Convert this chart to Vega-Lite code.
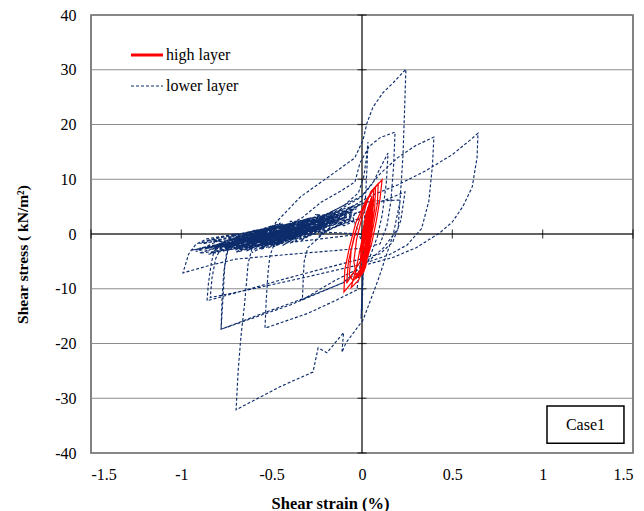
{
  "$schema": "https://vega.github.io/schema/vega-lite/v6.json",
  "width": 542,
  "height": 438,
  "autosize": {"type": "none"},
  "padding": {"left": 91, "top": 15, "right": 11, "bottom": 58},
  "background": "white",
  "config": {
    "view": {"stroke": "#595959", "strokeWidth": 1.5},
    "font": "Liberation Serif",
    "axis": {"labelFont": "Liberation Serif", "labelFontSize": 16, "labelColor": "black", "titleFont": "Liberation Serif", "titleFontSize": 15.5, "titleFontWeight": "bold", "titleColor": "black", "ticks": false, "domain": false},
    "style": {"guide-label": {"font": "Liberation Serif"}, "guide-title": {"font": "Liberation Serif"}}
  },
  "datasets": {
    "lower": [
      {"x":0,"y":0},{"x":-0.3,"y":0.5},{"x":-0.55,"y":-1.2},{"x":-0.2,"y":2.0},{"x":-0.05,"y":3.5},
      {"x":0.1,"y":5.8},{"x":0.238,"y":7.7},{"x":0.215,"y":2.5},{"x":0.17,"y":-1.5},{"x":0.1,"y":-3.6},{"x":0.0,"y":-4.5},{"x":-0.2,"y":-6.2},{"x":-0.45,"y":-8.4},{"x":-0.65,"y":-10.3},{"x":-0.858,"y":-12.2},{"x":-0.85,"y":-9},{"x":-0.835,"y":-5.5},{"x":-0.82,"y":-3.2},{"x":-0.79,"y":-1.8},
      {"x":-0.6,"y":-0.9},{"x":-0.82,"y":-2.6},{"x":-0.5,"y":0.3},{"x":-0.78,"y":-1.5},{"x":-0.42,"y":1.0},{"x":-0.7,"y":-2.7},{"x":-0.35,"y":1.9},{"x":-0.62,"y":-1.3},{"x":-0.3,"y":0.8},{"x":-0.66,"y":-2.2},{"x":-0.25,"y":2.6},{"x":-0.55,"y":-0.6},
      {"x":-0.3,"y":2.2},{"x":-0.12,"y":4.5},{"x":0.0,"y":6.8},{"x":0.06,"y":9.3},{"x":0.1,"y":12.0},{"x":0.144,"y":14.8},{"x":0.135,"y":9.5},{"x":0.112,"y":3.5},{"x":0.085,"y":-0.5},{"x":0.04,"y":-4.5},{"x":0.0,"y":-6.5},{"x":-0.105,"y":-8.9},{"x":-0.3,"y":-11.5},{"x":-0.55,"y":-14.5},{"x":-0.78,"y":-17.4},{"x":-0.775,"y":-12},{"x":-0.765,"y":-7},{"x":-0.75,"y":-3.5},{"x":-0.72,"y":-1.8},
      {"x":-0.52,"y":0.2},{"x":-0.76,"y":-2.2},{"x":-0.45,"y":-0.2},{"x":-0.68,"y":-2.9},{"x":-0.38,"y":0.6},{"x":-0.58,"y":-1.0},{"x":-0.28,"y":2.9},{"x":-0.6,"y":-2.4},{"x":-0.32,"y":-0.1},{"x":-0.48,"y":-1.8},{"x":-0.2,"y":2.4},{"x":-0.5,"y":0.9},
      {"x":-0.25,"y":2.8},{"x":-0.1,"y":5.2},{"x":-0.02,"y":7.5},{"x":0.01,"y":10.5},{"x":0.025,"y":14},{"x":0.033,"y":16.8},{"x":0.028,"y":12.5},{"x":0.02,"y":7},{"x":0.012,"y":2},{"x":0.0,"y":-2},{"x":-0.012,"y":-6},{"x":-0.028,"y":-10.2},{"x":-0.15,"y":-12.2},{"x":-0.3,"y":-14.5},{"x":-0.537,"y":-17.2},{"x":-0.53,"y":-12},{"x":-0.52,"y":-7},{"x":-0.51,"y":-4},{"x":-0.49,"y":-2.2},
      {"x":-0.3,"y":0.2},{"x":-0.7,"y":-1.7},{"x":-0.36,"y":1.3},{"x":-0.8,"y":-2.2},{"x":-0.44,"y":-0.6},{"x":-0.9,"y":-2.6},{"x":-0.6,"y":-0.5},{"x":-0.86,"y":-1.2},{"x":-0.4,"y":1.9},{"x":-0.74,"y":-0.6},{"x":-0.26,"y":1.2},{"x":-0.64,"y":-2.8},
      {"x":-0.45,"y":0.8},{"x":-0.33,"y":3.0},{"x":-0.227,"y":5.8},{"x":-0.12,"y":7.8},{"x":-0.039,"y":9.5},{"x":-0.011,"y":13.0},{"x":0.04,"y":16.0},{"x":0.1,"y":17.6},{"x":0.183,"y":18.6},{"x":0.175,"y":12.5},{"x":0.16,"y":6},{"x":0.138,"y":1.5},{"x":0.1,"y":-1.8},{"x":0.0,"y":-2.6},{"x":-0.25,"y":-3.3},{"x":-0.5,"y":-4.0},{"x":-0.7,"y":-4.6},{"x":-0.85,"y":-5.8},{"x":-0.991,"y":-7.1},{"x":-0.96,"y":-3.7},{"x":-0.92,"y":-1.9},{"x":-0.86,"y":-0.9},{"x":-0.75,"y":-0.3},{"x":-0.6,"y":0.4},
      {"x":-0.4,"y":1.6},{"x":-0.7,"y":-0.7},{"x":-0.3,"y":2.8},{"x":-0.58,"y":0.0},{"x":-0.2,"y":3.6},{"x":-0.5,"y":1.1},{"x":-0.15,"y":3.1},{"x":-0.46,"y":-0.4},{"x":-0.1,"y":4.5},{"x":-0.4,"y":0.4},
      {"x":-0.2,"y":3.5},{"x":0.0,"y":7.0},{"x":0.1,"y":11.0},{"x":0.2,"y":14.0},{"x":0.3,"y":16.2},{"x":0.398,"y":17.7},{"x":0.39,"y":12.5},{"x":0.37,"y":6.0},{"x":0.33,"y":1.0},{"x":0.25,"y":-2.0},{"x":0.15,"y":-3.8},{"x":0.0,"y":-5.5},{"x":-0.3,"y":-7.8},{"x":-0.6,"y":-10},{"x":-0.84,"y":-11.6},{"x":-0.83,"y":-8},{"x":-0.81,"y":-4.5},{"x":-0.78,"y":-2.5},{"x":-0.7,"y":-1.2},
      {"x":-0.35,"y":1.4},{"x":-0.66,"y":-2.0},{"x":-0.3,"y":0.0},{"x":-0.55,"y":-2.3},{"x":-0.18,"y":2.0},{"x":-0.45,"y":-1.3},{"x":-0.1,"y":3.0},{"x":-0.42,"y":0.8},{"x":-0.05,"y":4.0},{"x":-0.3,"y":2.8},
      {"x":-0.1,"y":4.2},{"x":0.05,"y":7.0},{"x":0.2,"y":9.0},{"x":0.35,"y":11.5},{"x":0.5,"y":14.5},{"x":0.6,"y":17.2},{"x":0.642,"y":18.4},{"x":0.637,"y":14.0},{"x":0.61,"y":8.6},{"x":0.558,"y":5.0},{"x":0.5,"y":2.2},{"x":0.43,"y":0.2},{"x":0.3,"y":-2.5},{"x":0.17,"y":-4.3},{"x":0.0,"y":-5.8},{"x":-0.105,"y":-8.9},{"x":-0.4,"y":-13},{"x":-0.78,"y":-17.4},{"x":-0.77,"y":-12},{"x":-0.76,"y":-6},{"x":-0.74,"y":-2.5},{"x":-0.6,"y":-1.0},
      {"x":-0.3,"y":1.5},{"x":-0.68,"y":-1.1},{"x":-0.24,"y":2.2},{"x":-0.56,"y":-2.0},{"x":-0.36,"y":0.0},{"x":-0.7,"y":-2.4},{"x":-0.28,"y":1.7},{"x":-0.5,"y":1.0},{"x":-0.2,"y":2.9},{"x":-0.6,"y":-1.2},{"x":-0.48,"y":0.4},
      {"x":-0.48,"y":2.0},{"x":-0.34,"y":6.8},{"x":-0.17,"y":10.8},{"x":-0.04,"y":13.9},{"x":0.006,"y":17.2},{"x":0.028,"y":20.3},{"x":0.061,"y":23.2},{"x":0.116,"y":25.8},{"x":0.172,"y":27.6},{"x":0.243,"y":30.1},{"x":0.235,"y":22},{"x":0.227,"y":14.4},{"x":0.21,"y":5.8},{"x":0.172,"y":-0.2},{"x":0.089,"y":-8.4},{"x":0.006,"y":-15.7},{"x":-0.089,"y":-19.9},{"x":-0.111,"y":-21.6},{"x":-0.102,"y":-18},{"x":-0.194,"y":-21.7},{"x":-0.243,"y":-20.8},{"x":-0.271,"y":-25.2},{"x":-0.454,"y":-27.9},{"x":-0.697,"y":-32.1},{"x":-0.685,"y":-24.8},{"x":-0.67,"y":-18.7},{"x":-0.65,"y":-12.8},{"x":-0.63,"y":-5.3},{"x":-0.6,"y":-1.5},
      {"x":-0.4,"y":0.7},{"x":-0.72,"y":-1.3},{"x":-0.33,"y":2.1},{"x":-0.62,"y":-0.1},{"x":-0.26,"y":1.0},{"x":-0.57,"y":-2.6},{"x":-0.2,"y":1.4},{"x":-0.5,"y":-0.6},
      {"x":-0.3,"y":2.0},{"x":-0.1,"y":4.6},{"x":0.05,"y":6.0},{"x":0.21,"y":6.2},{"x":0.2,"y":1.0},{"x":0.12,"y":-2.5},{"x":0.0,"y":-6.0},{"x":-0.15,"y":-8.5},{"x":-0.33,"y":-12.0},{"x":-0.325,"y":-8},{"x":-0.32,"y":-5},{"x":-0.3,"y":-2.5},{"x":-0.2,"y":0.5},
      {"x":-0.05,"y":3},{"x":0.005,"y":-2},{"x":0.0,"y":-14},{"x":0.01,"y":-4},{"x":-0.005,"y":-15.5},{"x":0.008,"y":-3},{"x":0.0,"y":-11},{"x":0.012,"y":-1},{"x":0.0,"y":0},
      {"x":-0.9,"y":-3.5},{"x":-0.7,"y":-1.2},{"x":-0.85,"y":-3.0},{"x":-0.62,"y":-0.5},{"x":-0.8,"y":-3.3},{"x":-0.55,"y":0.2},{"x":-0.74,"y":-2.6},{"x":-0.5,"y":1.0},{"x":-0.7,"y":-3.4},{"x":-0.45,"y":0.5},{"x":-0.66,"y":-2.0},{"x":-0.4,"y":1.5},{"x":-0.6,"y":-2.9},{"x":-0.36,"y":2.2},{"x":-0.57,"y":-1.5},{"x":-0.32,"y":1.4},{"x":-0.52,"y":-2.6},{"x":-0.27,"y":2.8},{"x":-0.48,"y":-0.8},{"x":-0.22,"y":2.0},{"x":-0.44,"y":-2.1},{"x":-0.17,"y":3.3},{"x":-0.38,"y":0.0},{"x":-0.12,"y":2.7},{"x":-0.34,"y":-1.2},{"x":-0.08,"y":4.4},{"x":-0.28,"y":0.9},{"x":-0.04,"y":3.5},{"x":-0.24,"y":-0.4},{"x":-0.02,"y":5.2},
      {"x":-0.2,"y":1.5},{"x":-0.45,"y":-1.0},{"x":-0.3,"y":1.8},{"x":-0.6,"y":-1.8},{"x":-0.42,"y":0.9},{"x":-0.72,"y":-2.3},{"x":-0.55,"y":-0.3},{"x":-0.82,"y":-2.9},{"x":-0.65,"y":-0.8},{"x":-0.92,"y":-3.2},{"x":-0.78,"y":-1.0},{"x":-0.88,"y":-1.8},{"x":-0.6,"y":0.6},{"x":-0.84,"y":-2.4},{"x":-0.5,"y":1.3},{"x":-0.76,"y":-1.9},{"x":-0.45,"y":2.0},{"x":-0.68,"y":-1.4},{"x":-0.38,"y":1.0},{"x":-0.64,"y":-3.1},{"x":-0.33,"y":1.6},{"x":-0.58,"y":-2.0},{"x":-0.3,"y":2.4},{"x":-0.53,"y":-1.7},{"x":-0.25,"y":3.0},{"x":-0.47,"y":-0.3},{"x":-0.2,"y":1.0},{"x":-0.4,"y":-1.7},{"x":-0.14,"y":3.8},{"x":-0.36,"y":0.5},
      {"x":-0.55,"y":-0.9},{"x":-0.75,"y":-3.0},{"x":-0.58,"y":0.8},{"x":-0.8,"y":-1.2},{"x":-0.62,"y":-2.5},{"x":-0.44,"y":1.9},{"x":-0.66,"y":-0.3},{"x":-0.48,"y":-2.2},{"x":-0.3,"y":0.6},{"x":-0.52,"y":0.1},{"x":-0.34,"y":-0.8},{"x":-0.16,"y":2.4},{"x":-0.4,"y":2.3},{"x":-0.22,"y":0.2},{"x":-0.06,"y":2.5},{"x":-0.26,"y":3.6},{"x":-0.1,"y":1.5},{"x":0.0,"y":3.0},{"x":-0.3,"y":-0.4},{"x":-0.7,"y":-2.9},
      {"x":-0.5,"y":-0.4},{"x":-0.72,"y":-1.9},{"x":-0.46,"y":0.6},{"x":-0.68,"y":-3.2},{"x":-0.42,"y":-0.5},{"x":-0.64,"y":-1.1},{"x":-0.38,"y":1.6},{"x":-0.62,"y":-2.2},{"x":-0.36,"y":-0.6},{"x":-0.58,"y":0.3},{"x":-0.33,"y":2.0},{"x":-0.56,"y":-2.8},{"x":-0.3,"y":0.3},{"x":-0.54,"y":-0.7},{"x":-0.28,"y":1.9},{"x":-0.52,"y":-1.2},{"x":-0.25,"y":1.2},{"x":-0.5,"y":-2.5},{"x":-0.22,"y":2.9},{"x":-0.46,"y":-0.9},{"x":-0.18,"y":1.6},{"x":-0.44,"y":0.1},{"x":-0.16,"y":3.4},{"x":-0.4,"y":-1.0},{"x":-0.12,"y":2.1},{"x":-0.37,"y":0.9},{"x":-0.09,"y":3.8},{"x":-0.35,"y":-0.3},{"x":-0.06,"y":2.8},{"x":-0.32,"y":1.1},{"x":-0.03,"y":4.6},{"x":-0.3,"y":1.9},{"x":-0.01,"y":4.0},
      {"x":-0.25,"y":2.3},{"x":-0.6,"y":-1.5},{"x":-0.4,"y":-0.2},{"x":-0.78,"y":-2.4},{"x":-0.6,"y":-1.9},{"x":-0.85,"y":-3.7},{"x":-0.7,"y":-1.6},{"x":-0.95,"y":-3.0},{"x":-0.8,"y":-2.0},{"x":-0.62,"y":-1.0},{"x":-0.87,"y":-2.7},{"x":-0.66,"y":-0.9},{"x":-0.9,"y":-1.7},{"x":-0.7,"y":0.1},{"x":-0.83,"y":-3.4},{"x":-0.58,"y":-1.3},{"x":-0.76,"y":-2.8},{"x":-0.52,"y":0.0},{"x":-0.73,"y":-1.0},{"x":-0.49,"y":1.6},{"x":-0.69,"y":-2.4},{"x":-0.44,"y":-1.5},{"x":-0.64,"y":-0.1},{"x":-0.4,"y":0.3},{"x":-0.61,"y":-3.4},{"x":-0.35,"y":0.8},{"x":-0.57,"y":-0.4},{"x":-0.31,"y":-0.2},{"x":-0.53,"y":-1.5},{"x":-0.29,"y":2.6},{"x":-0.49,"y":0.4},{"x":-0.23,"y":1.2},{"x":-0.47,"y":-2.0},{"x":-0.2,"y":3.2},{"x":-0.43,"y":1.3},{"x":-0.15,"y":2.6},{"x":-0.41,"y":-0.6},{"x":-0.11,"y":3.3},{"x":-0.3,"y":1.0},{"x":-0.05,"y":5.0},{"x":-0.2,"y":2.2},{"x":0.0,"y":5.5}
    ],
    "high": [
      {"x":0.0,"y":0.0},{"x":0.02,"y":3},{"x":0.04,"y":5.5},{"x":0.035,"y":2},{"x":0.015,"y":-3},{"x":0.0,"y":-5},{"x":0.005,"y":-1},{"x":0.03,"y":4},{"x":0.05,"y":6.5},{"x":0.045,"y":3},{"x":0.025,"y":-2},{"x":0.005,"y":-6},{"x":-0.005,"y":-3},{"x":0.015,"y":2},{"x":0.04,"y":5},{"x":0.055,"y":7},{"x":0.05,"y":2.5},{"x":0.03,"y":-1.5},{"x":0.01,"y":-5.5},{"x":-0.01,"y":-7},{"x":-0.005,"y":-2},{"x":0.02,"y":3.5},{"x":0.045,"y":6},{"x":0.04,"y":1.5},{"x":0.02,"y":-3.5},{"x":0.0,"y":-6.5},
      {"x":-0.03,"y":-8},{"x":-0.045,"y":-5},{"x":-0.03,"y":-1},{"x":0.0,"y":3},{"x":0.035,"y":6.5},{"x":0.065,"y":8.2},{"x":0.06,"y":4},{"x":0.045,"y":0},{"x":0.02,"y":-4},{"x":-0.01,"y":-7.5},{"x":-0.05,"y":-8.5},{"x":-0.07,"y":-7.5},{"x":-0.06,"y":-3},{"x":-0.03,"y":1},{"x":0.01,"y":5},{"x":0.05,"y":7.5},{"x":0.075,"y":8.5},{"x":0.07,"y":4.5},{"x":0.05,"y":0.5},{"x":0.025,"y":-3.5},{"x":-0.01,"y":-7},
      {"x":-0.1,"y":-10.6},{"x":-0.095,"y":-6.5},{"x":-0.07,"y":-2.5},{"x":-0.035,"y":2},{"x":0.02,"y":6},{"x":0.06,"y":8},{"x":0.111,"y":9.9},{"x":0.1,"y":6.5},{"x":0.08,"y":2.5},{"x":0.055,"y":-1.5},{"x":0.02,"y":-5.5},{"x":-0.02,"y":-8.5},{"x":-0.06,"y":-9.8},
      {"x":-0.03,"y":-6},{"x":0.0,"y":-1},{"x":0.02,"y":3},{"x":0.045,"y":5.5},{"x":0.05,"y":3},{"x":0.03,"y":-2},{"x":0.01,"y":-5},{"x":0.0,"y":-3},{"x":0.025,"y":2.5},{"x":0.05,"y":6},{"x":0.06,"y":4.5},{"x":0.035,"y":-1},{"x":0.015,"y":-4.5},{"x":0.0,"y":-4},{"x":0.02,"y":1.5},{"x":0.04,"y":4.5},{"x":0.045,"y":1.5},{"x":0.03,"y":-2.5},{"x":0.01,"y":-4},
      {"x":-0.085,"y":-9},{"x":-0.075,"y":-5},{"x":-0.04,"y":0},{"x":0.0,"y":4},{"x":0.05,"y":7.8},{"x":0.09,"y":9.2},{"x":0.085,"y":5.5},{"x":0.06,"y":1},{"x":0.03,"y":-3},{"x":0.0,"y":-6},{"x":-0.04,"y":-8},
      {"x":0.005,"y":-7},{"x":0.03,"y":1},{"x":0.055,"y":6.5},{"x":0.05,"y":1},{"x":0.02,"y":-5},{"x":0.0,"y":-7.5},{"x":0.025,"y":0},{"x":0.06,"y":6},{"x":0.055,"y":0},{"x":0.03,"y":-4},{"x":0.005,"y":-6},{"x":0.035,"y":2},{"x":0.06,"y":5.5},{"x":0.04,"y":-1},{"x":0.015,"y":-6.5},{"x":0.01,"y":-2},{"x":0.045,"y":5},{"x":0.065,"y":6.5},{"x":0.05,"y":-0.5},{"x":0.02,"y":-6},{"x":-0.005,"y":-4.5},{"x":0.03,"y":3},{"x":0.055,"y":4},{"x":0.035,"y":-3},{"x":0.01,"y":-7},{"x":0.0,"y":-2},{"x":0.04,"y":4.5},{"x":0.06,"y":3},{"x":0.04,"y":-2.5},{"x":0.02,"y":-6}
    ],
    "xticks": [{"v":-1.5},{"v":-1},{"v":-0.5},{"v":0},{"v":0.5},{"v":1},{"v":1.5}],
    "yticks": [{"v":-40},{"v":-30},{"v":-20},{"v":-10},{"v":0},{"v":10},{"v":20},{"v":30},{"v":40}],
    "box": [{"x1":1.024,"x2":1.45,"y1":-31.4,"y2":-38.2,"xc":1.237,"yc":-34.8,"label":"Case1"}]
  },
  "encoding": {
    "x": {"type": "quantitative", "scale": {"domain": [-1.5, 1.5], "nice": false, "zero": false}},
    "y": {"type": "quantitative", "scale": {"domain": [-40, 40], "nice": false, "zero": false}}
  },
  "layer": [
    {
      "data": {"name": "yticks"},
      "mark": {"type": "rule", "color": "#8c8c8c", "strokeWidth": 1},
      "encoding": {
        "y": {"field": "v", "type": "quantitative", "axis": {"values": [-40,-30,-20,-10,0,10,20,30,40], "grid": false, "labelPadding": 15, "labelFont": "Liberation Serif", "labelFontSize": 16, "labelExpr": "'' + datum.value", "title": "Shear stress ( kN/m²)", "titleFont": "Liberation Serif", "titleFontSize": 15.5, "titleFontWeight": "bold", "titleX": -69, "titleY": 239, "titleBaseline": "middle", "titleAngle": -90}}
      }
    },
    {
      "data": {"values": [{"v": 0}]},
      "mark": {"type": "rule", "color": "black", "strokeWidth": 1.2},
      "encoding": {"y": {"field": "v", "type": "quantitative"}}
    },
    {
      "data": {"values": [{"v": 0}]},
      "mark": {"type": "rule", "color": "black", "strokeWidth": 1.2},
      "encoding": {"x": {"field": "v", "type": "quantitative", "axis": {"values": [-1.5,-1,-0.5,0,0.5,1,1.5], "grid": false, "labelPadding": 13, "labelFont": "Liberation Serif", "labelFontSize": 16, "labelExpr": "'' + datum.value", "title": "Shear strain (%)", "titleFont": "Liberation Serif", "titleFontSize": 16.5, "titleFontWeight": "bold", "titleX": 239, "titleY": 50, "titleBaseline": "middle"}}}
    },
    {
      "data": {"name": "xticks"},
      "mark": {"type": "tick", "orient": "vertical", "color": "black", "size": 9, "thickness": 1.2},
      "encoding": {"x": {"field": "v", "type": "quantitative"}, "y": {"datum": 0}}
    },
    {
      "data": {"name": "yticks"},
      "mark": {"type": "tick", "orient": "horizontal", "color": "black", "size": 9, "thickness": 1.2},
      "encoding": {"y": {"field": "v", "type": "quantitative"}, "x": {"datum": 0}}
    },
    {
      "data": {"name": "lower"},
      "mark": {"type": "line", "strokeWidth": 1.15},
      "encoding": {
        "x": {"field": "x", "type": "quantitative"},
        "y": {"field": "y", "type": "quantitative"},
        "order": {"value": null},
        "color": {"datum": "lower layer", "type": "nominal", "scale": {"domain": ["high layer", "lower layer"], "range": ["#FF0000", "#0D2C6B"]},
          "legend": {"orient": "none", "legendX": 48, "legendY": 32, "title": null, "symbolType": "stroke", "symbolSize": 1024, "symbolStrokeWidth": 1.2, "labelFont": "Liberation Serif", "labelFontSize": 16, "labelColor": "black", "labelOffset": 11, "rowPadding": 15, "padding": 0,
            "encode": {"symbols": {"update": {"strokeWidth": {"signal": "datum.value === 'high layer' ? 3 : 1.2"}}}}}},
        "strokeDash": {"datum": "lower layer", "type": "nominal", "scale": {"domain": ["high layer", "lower layer"], "range": [[1, 0], [3, 2]]}, "legend": null}
      }
    },
    {
      "data": {"name": "high"},
      "mark": {"type": "line", "strokeWidth": 1.2},
      "encoding": {
        "x": {"field": "x", "type": "quantitative"},
        "y": {"field": "y", "type": "quantitative"},
        "order": {"value": null},
        "color": {"datum": "high layer", "type": "nominal"},
        "strokeDash": {"datum": "high layer", "type": "nominal"}
      }
    },
    {
      "data": {"name": "box"},
      "mark": {"type": "rect", "fill": "white", "stroke": "black", "strokeWidth": 1.5},
      "encoding": {"x": {"field": "x1", "type": "quantitative"}, "x2": {"field": "x2"}, "y": {"field": "y1", "type": "quantitative"}, "y2": {"field": "y2"}}
    },
    {
      "data": {"name": "box"},
      "mark": {"type": "text", "font": "Liberation Serif", "fontSize": 16, "color": "black", "align": "center", "baseline": "middle"},
      "encoding": {"x": {"field": "xc", "type": "quantitative"}, "y": {"field": "yc", "type": "quantitative"}, "text": {"field": "label"}}
    }
  ]
}
